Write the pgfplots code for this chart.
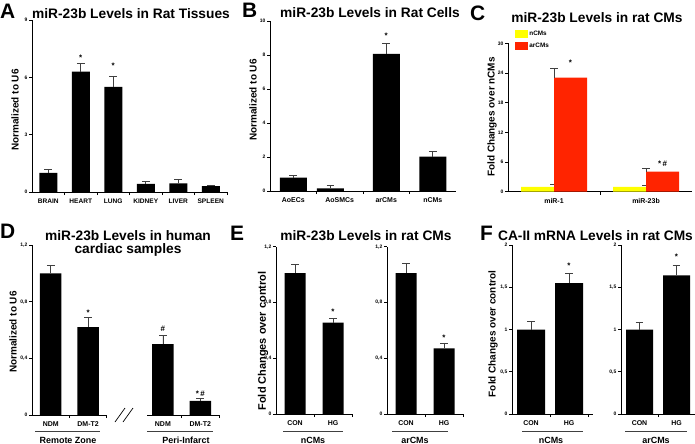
\documentclass[border=0pt]{standalone}
\usepackage{fontspec}
\setmainfont{Liberation Sans}
\usepackage{pgfplots}
\pgfplotsset{compat=1.18}
\definecolor{cyel}{RGB}{255,255,0}
\definecolor{cred}{RGB}{255,36,0}
\newcommand{\fs}[1]{\fontsize{#1}{#1}\selectfont\bfseries}
\pgfplotsset{
 panel/.style={
  scale only axis, anchor=south west,
  axis x line=bottom, axis y line=left,
  axis line style={-, line width=0.8bp, black},
  ymin=0, xmin=0.5, xmax=2.5,
  tick align=outside,
  major tick length=3bp, minor tick length=3bp,
  every tick/.style={line width=0.8bp, black},
  major x tick style={draw=none},
  yticklabel style={font=\fs{5}, inner sep=1.5bp},
  xticklabel style={font=\fs{7}},
  /pgf/number format/assume math mode=true,
  clip=false,
 },
 bars/.style={ybar, bar width=#1, fill=black, draw=none,
   error bars/y dir=plus, error bars/y explicit,
   error bars/error bar style={line width=0.75bp, black!75},
   error bars/error mark options={rotate=90, mark size=3.8bp, line width=0.75bp, black!75}},
}
\tikzset{
 sig/.style={font=\fs{8}, anchor=base, yshift=-4bp, inner sep=0pt},
 ylab/.style={font=\fs{10}, rotate=90, anchor=center, inner sep=0pt},
 ttl/.style={font=\fs{13.8}, anchor=base, inner sep=0pt},
 let/.style={font=\fs{21}, anchor=base west, inner sep=0pt},
 grp/.style={font=\fs{9}, anchor=base, inner sep=0pt},
 uline/.style={line width=0.8bp, black!75},
}
\begin{document}
\begin{tikzpicture}
\useasboundingbox (0,0) rectangle (695bp,-444bp);

% ---------- A ----------
\begin{axis}[panel, at={(32bp,-192bp)}, width=195bp, height=172bp, xmax=6.5, ymax=9,
  ytick={0,3,6,9}, xtick={1,2,3,4,5,6},
  xticklabels={BRAIN,HEART,LUNG,KIDNEY,LIVER,SPLEEN},
  minor xtick={1.5,2.5,3.5,4.5,5.5,6.5}, xticklabel style={font=\fs{6.6}}]
\addplot[bars=18bp] coordinates {(1,1.0) +- (0,0.18) (2,6.3) +- (0,0.45) (3,5.5) +- (0,0.55)
  (4,0.42) +- (0,0.12) (5,0.45) +- (0,0.22) (6,0.31) +- (0,0.06)};
\node[sig] at (axis cs:2,7.08) {*};
\node[sig] at (axis cs:3,6.65) {*};
\end{axis}

% ---------- B ----------
\begin{axis}[panel, at={(270bp,-191bp)}, width=186bp, height=170bp, xmax=4.5, ymax=10,
  ytick={0,2,4,6,8,10}, xtick={1,2,3,4},
  xticklabels={AoECs,AoSMCs,arCMs,nCMs}, minor xtick={1.5,2.5,3.5}]
\addplot[bars=27bp] coordinates {(1,0.78) +- (0,0.16) (1.8,0.16) +- (0,0.19)
  (3,8.06) +- (0,0.63) (4,2.02) +- (0,0.29)};
\node[sig] at (axis cs:3,9.18) {*};
\end{axis}

% ---------- C ----------
\begin{axis}[panel, at={(508bp,-191.7bp)}, width=184bp, height=148.3bp, ymax=30,
  ytick={0,6,12,18,24,30}, xtick={1,2}, xticklabels={miR-1,miR-23b}, minor xtick={1.5},
  legend style={at={(axis description cs:0.038,1.09)}, anchor=north west, draw=none, fill=none,
    font=\fs{6.4}, row sep=3.5bp, inner sep=0pt, nodes={inner sep=1.2bp}},
  legend cell align=left,
  legend image code/.code={\fill[#1, draw=none] (0bp,-4bp) rectangle (13bp,4bp);}]
\addplot[bars=33bp, fill=cyel, bar shift=-16.5bp] coordinates {(1,1.0) +- (0,0.45) (2,1.0) +- (0,0.3)};
\addlegendentry{nCMs}
\addplot[bars=33bp, fill=cred, bar shift=16.5bp] coordinates {(1,23.1) +- (0,1.9) (2,4.05) +- (0,0.65)};
\addlegendentry{arCMs}
\node[sig, xshift=16.5bp] at (axis cs:1,26.3) {*};
\node[sig, xshift=16.5bp] at (axis cs:2,5.87) {*\,\#};
\end{axis}

% ---------- D ----------
\begin{axis}[panel, at={(32bp,-415bp)}, width=187bp, height=170bp, xmax=5.5, ymax=1.2,
  x axis line style={draw=none},
  ytick={0,0.4,0.8,1.2}, yticklabels={0,{0,4},{0,8},{1,2}},
  xtick={1,2,4,5}, xticklabels={NDM,DM-T2,NDM,DM-T2}, minor xtick={1.5,2.5,4.5,5.5}]
\addplot[bars=21.5bp] coordinates {(1,1.0) +- (0,0.055) (2,0.62) +- (0,0.07)
  (4,0.50) +- (0,0.06) (5,0.10) +- (0,0.02)};
\draw[line width=0.8bp] (axis cs:0.5,0) -- (axis cs:2.5,0);
\draw[line width=0.8bp] (axis cs:3.58,0) -- (axis cs:5.5,0);
\node[sig] at (axis cs:2,0.731) {*};
\node[sig] at (axis cs:4,0.616) {\#};
\node[sig] at (axis cs:5,0.158) {*\,\#};
\end{axis}

% ---------- E ----------
\begin{axis}[panel, at={(276bp,-414bp)}, width=76bp, height=167.3bp, ymax=1.2,
  ytick={0,0.4,0.8,1.2}, yticklabels={0,{0,4},{0,8},{1,2}},
  xtick={1,2}, xticklabels={CON,HG}, minor xtick={1.5,2.5}]
\addplot[bars=21bp] coordinates {(1,1.01) +- (0,0.06) (2,0.655) +- (0,0.03)};
\node[sig] at (axis cs:2,0.746) {*};
\end{axis}
\begin{axis}[panel, at={(387bp,-414bp)}, width=76bp, height=167.3bp, ymax=1.2,
  ytick={0,0.4,0.8,1.2}, yticklabels={0,{0,4},{0,8},{1,2}},
  xtick={1,2}, xticklabels={CON,HG}, minor xtick={1.5,2.5}]
\addplot[bars=21bp] coordinates {(1,1.01) +- (0,0.07) (2,0.47) +- (0,0.04)};
\node[sig] at (axis cs:2,0.555) {*};
\end{axis}

% ---------- F ----------
\begin{axis}[panel, at={(512bp,-414bp)}, width=81bp, height=169bp, xmax=2.63, ymax=2,
  ytick={0,0.5,1,1.5,2}, yticklabels={0,{0,5},1,{1,5},2},
  xtick={1,2}, xticklabels={CON,HG}, minor xtick={1.5,2.5}]
\addplot[bars=28bp] coordinates {(1,1.0) +- (0,0.1) (2,1.55) +- (0,0.12)};
\node[sig] at (axis cs:2,1.77) {*};
\end{axis}
\begin{axis}[panel, at={(621bp,-414bp)}, width=74bp, height=169bp, ymax=2,
  ytick={0,0.5,1,1.5,2}, yticklabels={0,{0,5},1,{1,5},2},
  xtick={1,2}, xticklabels={CON,HG}, minor xtick={1.5,2.5}]
\addplot[bars=27bp] coordinates {(1,1.0) +- (0,0.09) (2,1.64) +- (0,0.12)};
\node[sig] at (axis cs:2,1.88) {*};
\end{axis}

% ---------- letters and titles ----------
\node[let] at (0bp,-18bp) {A};
\node[let] at (242bp,-17bp) {B};
\node[let] at (470bp,-20bp) {C};
\node[let] at (0bp,-238bp) {D};
\node[let] at (230bp,-240bp) {E};
\node[let] at (480bp,-240bp) {F};
\node[ttl] at (131bp,-18bp) {miR-23b Levels in Rat Tissues};
\node[ttl] at (370bp,-17bp) {miR-23b Levels in Rat Cells};
\node[ttl] at (597bp,-22bp) {miR-23b Levels in rat CMs};
\node[ttl] at (128bp,-240bp) {miR-23b Levels in human};
\node[ttl] at (128bp,-253.3bp) {cardiac samples};
\node[ttl] at (366bp,-240bp) {miR-23b Levels in rat CMs};
\node[ttl] at (595.5bp,-240bp) {CA-II mRNA Levels in rat CMs};

% ---------- y labels ----------
\node[ylab] at (15bp,-110bp) {Normalized to U6};
\node[ylab] at (253bp,-100bp) {Normalized to U6};
\node[ylab] at (492bp,-117bp) {Fold Changes over nCMs};
\node[ylab] at (13bp,-332bp) {Normalized to U6};
\node[ylab, font=\fs{11}] at (263bp,-341bp) {Fold Changes over control};
\node[ylab] at (493bp,-334bp) {Fold Changes over control};

% ---------- group lines and labels ----------
\draw[uline] (35bp,-431.5bp) -- (100bp,-431.5bp);
\draw[uline] (147bp,-431.5bp) -- (213bp,-431.5bp);
\node[grp] at (68bp,-443.5bp) {Remote Zone};
\node[grp] at (186bp,-443.5bp) {Peri-Infarct};
\draw[line width=0.7bp] (115bp,-422bp) -- (125bp,-408bp);
\draw[line width=0.7bp] (123bp,-422bp) -- (133bp,-408bp);
\draw[uline] (283bp,-431bp) -- (343bp,-431bp);
\draw[uline] (392bp,-431bp) -- (448bp,-431bp);
\node[grp] at (313bp,-443.5bp) {nCMs};
\node[grp] at (415bp,-443.5bp) {arCMs};
\draw[uline] (522bp,-431bp) -- (583bp,-431bp);
\draw[uline] (625bp,-431bp) -- (687bp,-431bp);
\node[grp] at (551bp,-443.5bp) {nCMs};
\node[grp] at (656bp,-443.5bp) {arCMs};
\end{tikzpicture}
\end{document}
